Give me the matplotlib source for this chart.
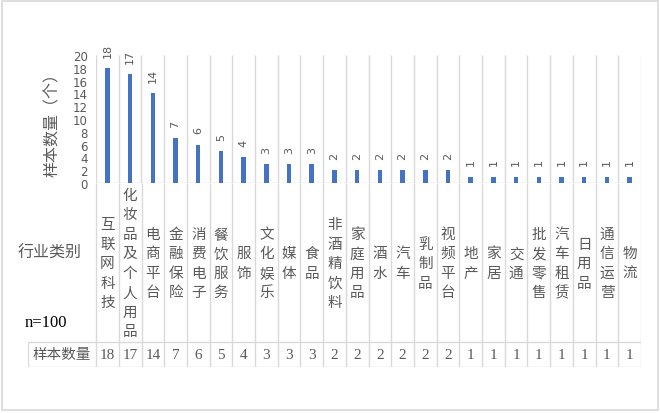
import matplotlib
matplotlib.use("Agg")
import matplotlib.pyplot as plt
from matplotlib.patches import Rectangle

plt.rcParams['font.family'] = ['Noto Sans CJK SC', 'DejaVu Sans']

categories = ["互联网科技", "化妆品及个人用品", "电商平台", "金融保险", "消费电子", "餐饮服务",
              "服饰", "文化娱乐", "媒体", "食品", "非酒精饮料", "家庭用品", "酒水", "汽车",
              "乳制品", "视频平台", "地产", "家居", "交通", "批发零售", "汽车租赁", "日用品",
              "通信运营", "物流"]
values = [18, 17, 14, 7, 6, 5, 4, 3, 3, 3, 2, 2, 2, 2, 2, 2, 1, 1, 1, 1, 1, 1, 1, 1]
y_ticks = list(range(0, 21, 2))
y_label = "样本数量（个）"
row_header = "行业类别"
value_row_label = "样本数量"
sample_note = "n=100"

W, H = 660, 414
fig = plt.figure(figsize=(W / 100, H / 100), dpi=100)
GRID = "#d9d9d9"
TXT = "#595959"

def px_axes(x0, y0, x1, y1):
    return fig.add_axes([x0 / W, 1 - y1 / H, (x1 - x0) / W, (y1 - y0) / H])

# outer frame
fig.patches.append(Rectangle((2 / W, 3 / H), 656 / W, 409 / H, transform=fig.transFigure,
                             fill=False, edgecolor=GRID, linewidth=1.2))

n = len(categories)
xs = list(range(n))

# main chart axes
ax = px_axes(96, 56, 641, 184)
ax.bar(xs, values, width=0.2, color="#4472C4", zorder=3)
ax.set_xlim(-0.5, n - 0.5)
ax.set_ylim(0, 20)
ax.set_yticks(y_ticks)
ax.tick_params(axis='y', length=0, labelsize=8.5, labelcolor=TXT, pad=6)
for lab in ax.get_yticklabels():
    lab.set_family('DejaVu Sans')
ax.set_xticks([])
for s in ax.spines.values():
    s.set_visible(False)
ax.vlines([i - 0.5 for i in range(n + 1)], 0, 20, colors=GRID, linewidth=1, zorder=1)
ax.hlines(0, -0.5, n - 0.5, colors=GRID, linewidth=1, zorder=2)
for x, v in zip(xs, values):
    ax.annotate(str(v), (x, v), xytext=(0, 8), textcoords='offset points',
                ha='center', va='bottom', rotation=90, fontsize=8, color=TXT,
                family='DejaVu Sans', annotation_clip=False)
ax.text(-0.079, 0.49, y_label, transform=ax.transAxes, rotation=90, ha='center',
        va='center', fontsize=11.5, color=TXT)

# table axes
at = px_axes(28, 184, 641, 368)
at.set_xlim(-3.5, n - 0.5)
at.set_ylim(0, 1)
at.axis('off')
row_y = (368 - 343) / 184
at.vlines([i - 0.5 for i in range(n + 1)], 0, 1, colors=GRID, linewidth=1)
at.vlines([-3.5], 0, row_y, colors=GRID, linewidth=1)
at.hlines([0, row_y], -3.5, n - 0.5, colors=GRID, linewidth=1)
for x, c, v in zip(xs, categories, values):
    at.text(x, 0.565, "\n".join(c), ha='center', va='center', fontsize=10.5,
            color=TXT, linespacing=1.5)
    at.text(x, row_y / 2, str(v), ha='center', va='center', fontsize=11,
            color=TXT, family='Liberation Serif')
at.text(-2, row_y / 2, value_row_label, ha='center', va='center', fontsize=10.5, color=TXT)
at.text(-2.53, 0.625, row_header, ha='center', va='center', fontsize=11.5, color=TXT)
at.text(-2.7, (368 - 323) / 184, sample_note, ha='center', va='center', fontsize=12,
        color='black', family='Liberation Serif')

fig.savefig("out.png", dpi=100)
